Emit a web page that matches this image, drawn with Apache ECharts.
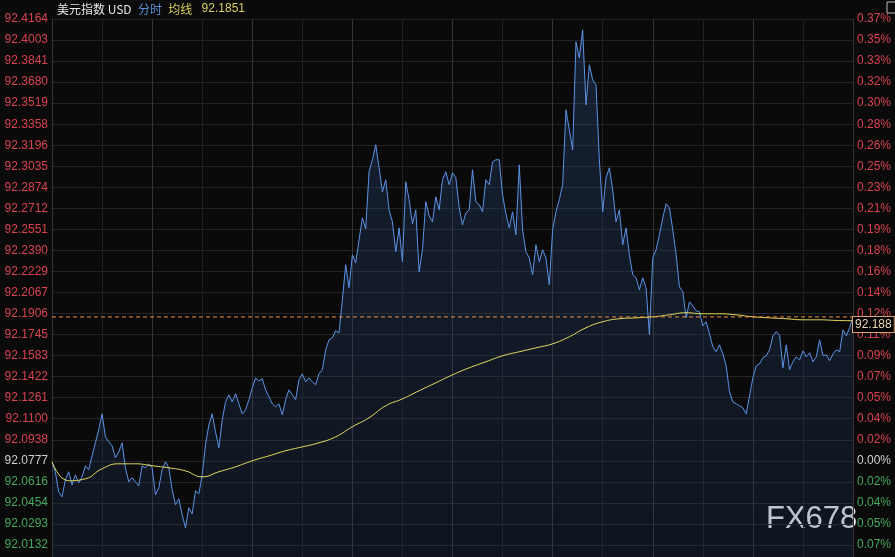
<!DOCTYPE html>
<html><head><meta charset="utf-8">
<script src="https://cdn.jsdelivr.net/npm/echarts@6/dist/echarts.min.js"></script>
<style>html,body{margin:0;padding:0;background:#0a0a0b;overflow:hidden;}#c{width:895px;height:557px;}</style>
</head><body><div id="c"></div>
<script>
// Tick labels (bottom -> top)
const priceTicks = ['92.0132','92.0293','92.0454','92.0616','92.0777','92.0938','92.1100','92.1261','92.1422','92.1583','92.1745','92.1906','92.2067','92.2229','92.2390','92.2551','92.2712','92.2874','92.3035','92.3196','92.3358','92.3519','92.3680','92.3841','92.4003','92.4164'];
const pctTicks = ['0.07%','0.05%','0.04%','0.02%','0.00%','0.02%','0.04%','0.05%','0.07%','0.09%','0.11%','0.12%','0.14%','0.16%','0.18%','0.19%','0.21%','0.23%','0.25%','0.26%','0.28%','0.30%','0.32%','0.33%','0.35%','0.37%'];
const prevClose = 92.0777;
const lastPrice = 92.188;
const avgLast = 92.1851;

// minute price (241 samples)
const price = [
92.0769,92.0693,92.0539,92.0501,92.0631,92.0693,92.0593,92.0670,92.0608,92.0654,
92.0739,92.0708,92.0815,92.0915,92.1015,92.1137,92.0961,92.0923,92.0892,92.0800,
92.0846,92.0915,92.0723,92.0616,92.0647,92.0616,92.0585,92.0739,92.0723,92.0754,
92.0723,92.0516,92.0570,92.0708,92.0769,92.0723,92.0555,92.0440,92.0486,92.0363,
92.0263,92.0417,92.0371,92.0547,92.0524,92.0670,92.0900,92.1053,92.1137,92.0999,
92.0877,92.1091,92.1229,92.1283,92.1229,92.1291,92.1214,92.1137,92.1168,92.1245,
92.1337,92.1413,92.1390,92.1406,92.1321,92.1268,92.1214,92.1191,92.1214,92.1130,
92.1245,92.1321,92.1283,92.1245,92.1398,92.1444,92.1383,92.1413,92.1383,92.1360,
92.1444,92.1475,92.1628,92.1705,92.1720,92.1774,92.1758,92.2011,92.2280,92.2103,
92.2356,92.2295,92.2471,92.2640,92.2556,92.2993,92.3085,92.3200,92.3023,92.2839,
92.2931,92.2701,92.2609,92.2379,92.2563,92.2303,92.2916,92.2778,92.2594,92.2701,
92.2226,92.2395,92.2763,92.2655,92.2609,92.2801,92.2701,92.2931,92.2993,92.2893,
92.2985,92.2947,92.2717,92.2586,92.2678,92.2701,92.3008,92.2763,92.2740,92.2686,
92.2931,92.2893,92.3069,92.3085,92.3085,92.2816,92.2671,92.2563,92.2686,92.2510,
92.3046,92.2548,92.2379,92.2333,92.2203,92.2433,92.2303,92.2395,92.2333,92.2126,
92.2548,92.2686,92.2778,92.2893,92.3468,92.3314,92.3161,92.3989,92.3866,92.4081,
92.3506,92.3813,92.3698,92.3659,92.3085,92.2686,92.2947,92.3023,92.2855,92.2609,
92.2701,92.2433,92.2563,92.2356,92.2203,92.2180,92.2088,92.2180,92.2103,92.1743,
92.2333,92.2395,92.2510,92.2640,92.2747,92.2717,92.2548,92.2356,92.2111,92.2073,
92.1873,92.1996,92.1965,92.1927,92.1919,92.1812,92.1843,92.1751,92.1651,92.1613,
92.1666,92.1597,92.1505,92.1306,92.1229,92.1214,92.1199,92.1183,92.1137,92.1275,
92.1413,92.1505,92.1521,92.1567,92.1582,92.1628,92.1735,92.1766,92.1743,92.1490,
92.1666,92.1475,92.1536,92.1574,92.1551,92.1620,92.1574,92.1605,92.1536,92.1574,
92.1705,92.1582,92.1590,92.1544,92.1597,92.1628,92.1613,92.1781,92.1735,92.1797,
92.1880
];
// average line, one value every 5 samples
const avg = [
92.0769,92.0624,92.0639,92.0716,92.0754,92.0754,92.0739,92.0723,92.0700,92.0654,
92.0693,92.0731,92.0777,92.0815,92.0854,92.0884,92.0915,92.0961,92.1038,92.1107,
92.1199,92.1252,92.1314,92.1375,92.1436,92.1490,92.1536,92.1582,92.1613,92.1643,
92.1674,92.1728,92.1797,92.1843,92.1866,92.1873,92.1881,92.1896,92.1912,92.1904,
92.1904,92.1896,92.1881,92.1873,92.1866,92.1858,92.1858,92.1853,avgLast
];

const base = Number(priceTicks[4]);
const step = (Number(priceTicks[25]) - Number(priceTicks[0])) / 25;
const toU = v => (v - base) / step;
const RED = '#d8434f', GREEN = '#45a85a', GRAY = '#cfcfcf';
const lblColor = v => { const k = Math.round(Number(v)); return k > 0 ? RED : (k < 0 ? GREEN : GRAY); };
const lastIdx = price.length - 1;

const chart = echarts.init(document.getElementById('c'), null, {renderer: 'canvas'});
chart.setOption({
  backgroundColor: '#0a0a0b',
  animation: false,
  title: {
    left: 52, top: -2,
    text: '{w|美元指数 USD} {b|分时} {y|均线} {v|' + avgLast.toFixed(4) + '}',
    textStyle: {
      fontSize: 12, fontWeight: 'normal',
      rich: {
        w: {color: '#e6e6e6', fontSize: 12, fontWeight: 'normal', fontFamily: 'Noto Sans CJK SC, Liberation Sans'},
        b: {color: '#5b8fd8', fontSize: 12, fontWeight: 'normal', fontFamily: 'Noto Sans CJK SC', padding: [0, 3, 0, 3]},
        y: {color: '#d8cc55', fontSize: 12, fontWeight: 'normal', fontFamily: 'Noto Sans CJK SC', padding: [0, 6, 0, 0]},
        v: {color: '#d8d060', fontSize: 12, fontWeight: 'normal', fontFamily: 'Liberation Sans'}
      }
    }
  },
  grid: {left: 52, right: 42, top: 19, height: 547, outerBoundsMode: 'none', containLabel: false},
  xAxis: {
    type: 'value', min: 0, max: 240, interval: 15,
    axisLine: {show: false}, axisTick: {show: false}, axisLabel: {show: false},
    splitLine: {show: true, lineStyle: {color: ['#343434', '#202020'], width: 1}}
  },
  yAxis: [{
    type: 'value', min: -5, max: 21, interval: 1, position: 'left',
    axisLine: {show: true, lineStyle: {color: '#343434'}}, axisTick: {show: false},
    splitLine: {show: true, lineStyle: {color: '#242424', width: 1}},
    axisLabel: {
      margin: 4, fontSize: 12, fontFamily: 'Liberation Sans',
      formatter: v => priceTicks[Math.round(v) + 4] || '',
      color: lblColor
    }
  }, {
    type: 'value', min: -5, max: 21, interval: 1, position: 'right',
    axisLine: {show: true, lineStyle: {color: '#343434'}}, axisTick: {show: false},
    splitLine: {show: false},
    axisLabel: {
      margin: 4, fontSize: 12, fontFamily: 'Liberation Sans',
      formatter: v => pctTicks[Math.round(v) + 4] || '',
      color: lblColor
    }
  }],
  series: [{
    type: 'line', name: '分时', showSymbol: false, symbol: 'none',
    data: price.map((v, i) => [i, toU(v)]),
    lineStyle: {color: '#5b93e6', width: 1},
    areaStyle: {
      origin: 'start',
      color: new echarts.graphic.LinearGradient(0, 0, 0, 1, [
        {offset: 0, color: 'rgba(45,75,125,0.50)'},
        {offset: 1, color: 'rgba(35,60,105,0.30)'}
      ])
    },
    z: 3
  }, {
    type: 'line', name: '均线', showSymbol: false, symbol: 'none', smooth: true,
    data: avg.map((v, k) => [k * 5, toU(v)]),
    lineStyle: {color: '#e6de5c', width: 1},
    z: 4
  }, {
    type: 'line', name: 'last', showSymbol: false, symbol: 'none', silent: true,
    data: [[0, toU(lastPrice)], [lastIdx, toU(lastPrice)]],
    lineStyle: {color: '#f08c44', type: [4, 3], width: 1},
    endLabel: {
      show: true, distance: 0,
      formatter: () => lastPrice.toFixed(3),
      color: '#ecd6b6', fontSize: 12, fontFamily: 'Liberation Sans',
      backgroundColor: '#000', borderColor: '#d9a070', borderWidth: 1,
      padding: [2, 2, 1, 2], verticalAlign: 'top', align: 'left'
    },
    z: 5
  }],
  graphic: [{
    type: 'text', left: 766, top: 504,
    style: {text: 'FX678', fill: '#ececec', font: '31px "Liberation Sans"'}
  }, {
    type: 'rect', shape: {x: 887, y: 2, width: 10, height: 11},
    style: {fill: 'none', stroke: '#bbbbbb', lineWidth: 1}
  }]
});
</script></body></html>
